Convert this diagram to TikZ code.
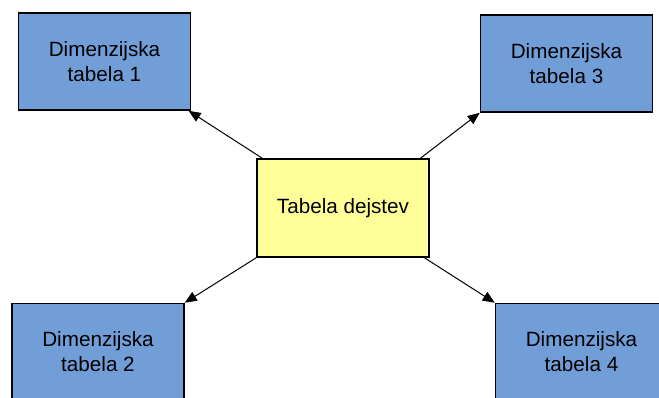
\documentclass[tikz,border=0pt]{standalone}
\usepackage{fontspec}
\setmainfont{Liberation Sans}
\usetikzlibrary{arrows.meta}
\definecolor{dimblue}{RGB}{114,158,216}
\definecolor{factyellow}{RGB}{255,255,153}
\begin{document}
\begin{tikzpicture}[x=0.75pt,y=-0.75pt,
  tablebox/.style={draw=black,line width=1.2pt,align=center,inner sep=0pt,
    minimum height=72.75pt,font=\fontsize{15.5}{18.75}\selectfont},
  dim/.style={tablebox,fill=dimblue,minimum width=129pt},
  fact/.style={tablebox,fill=factyellow,minimum width=129pt,minimum height=73.5pt},
  link/.style={line width=0.75pt,-{Triangle[length=9pt,width=7.5pt]}}]
\useasboundingbox (0,0) rectangle (659,398);
% fact table in the middle
\node[fact] (fc) at (343,208) {Tabela dejstev};
% dimension tables around it
\node[dim] (d1) at (104.5,61.5) {Dimenzijska\\tabela 1};
\node[dim] (d3) at (566.5,63.5) {Dimenzijska\\tabela 3};
\node[dim] (d2) at (98,352) {Dimenzijska\\tabela 2};
\node[dim] (d4) at (581.5,352) {Dimenzijska\\tabela 4};
% links from the fact table to each dimension table
\draw[link] ([xshift=4.5pt]fc.north west) -- ([xshift=-2pt]d1.south east);
\draw[link] ([xshift=-7pt]fc.north east) -- (d3.south west);
\draw[link] (fc.south west) -- (d2.north east);
\draw[link] ([xshift=-4pt]fc.south east) -- (d4.north west);
\end{tikzpicture}
\end{document}
